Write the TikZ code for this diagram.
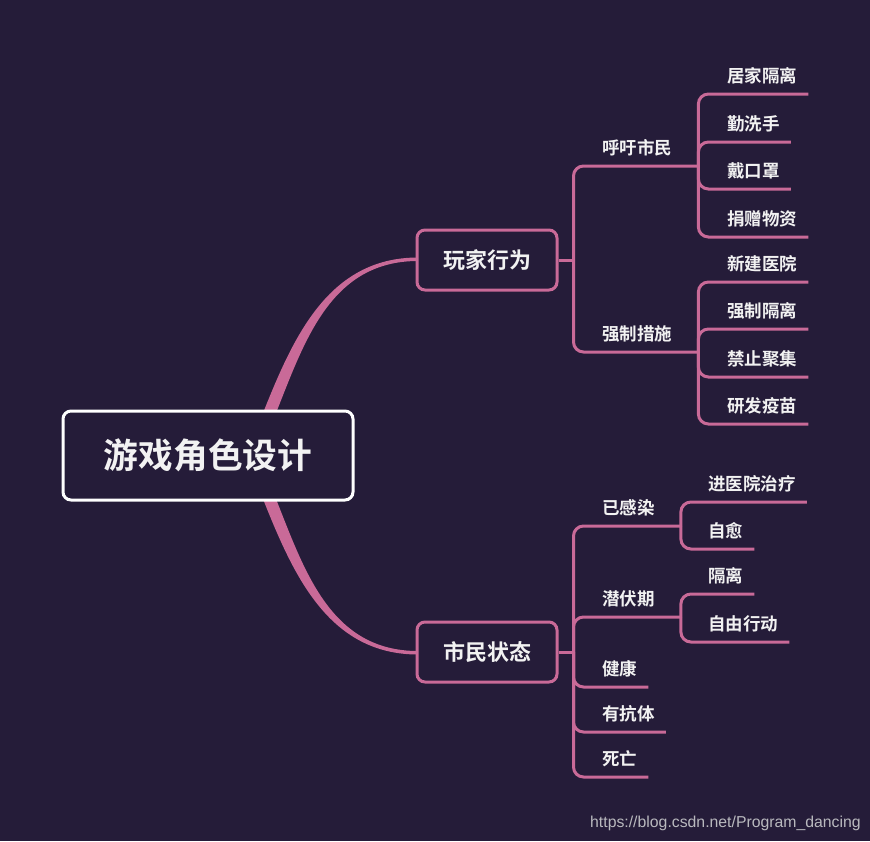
\documentclass[tikz,border=0pt]{standalone}
\usepackage{fontspec}
\setmainfont{Noto Sans CJK SC}[BoldFont={* Bold}]
\newfontfamily\urlfont{Liberation Sans}
\usetikzlibrary{calc}

\definecolor{bgcol}{RGB}{37,28,57}
\definecolor{pinkline}{RGB}{201,106,152}
\definecolor{textcol}{RGB}{242,242,242}
\definecolor{urlgray}{RGB}{185,185,190}

\tikzset{
  branch/.style={draw=pinkline, line width=3pt, rounded corners=10pt},
  root/.style={draw=white, line width=3pt, fill=bgcol, rounded corners=8pt,
    minimum width=290pt, minimum height=89pt, text=textcol,
    font=\fontsize{34.7}{40}\selectfont\bfseries},
  topic/.style={draw=pinkline, line width=3pt, fill=bgcol, rounded corners=8pt,
    minimum width=140pt, minimum height=60pt, text=textcol,
    font=\fontsize{22}{26}\selectfont\bfseries},
  sub/.style={anchor=south west, inner xsep=0pt, inner ysep=0pt,
    text depth=10.9pt, text=textcol,
    font=\fontsize{17.5}{20}\selectfont\bfseries},
  leaf/.style={sub, inner xsep=11pt},
}

\begin{document}
\begin{tikzpicture}[x=1pt, y=-1pt]
    \fill[bgcol] (0,0) rectangle (870,841);

    % main curves from the root
    \fill[pinkline] (263,413) .. controls (293,338) and (328,257.5) .. (418,257.5)
        -- (418,261) .. controls (331,261) and (305,340) .. (276,413) -- cycle;
    \fill[pinkline] (263,499) .. controls (293,574) and (328,654.5) .. (418,654.5)
        -- (418,651) .. controls (331,651) and (305,572) .. (276,499) -- cycle;

    \node[root] (root) at (208,455.5) {游戏角色设计};
    \node[topic] (play) at (487,260) {玩家行为};
    \node[topic] (city) at (487,652) {市民状态};

    % player actions
    \coordinate (hp) at ([xshift=15pt]play.east);
    \draw[branch] (play.east) -- (hp);
    \node[sub] (call) at (602,166) {呼吁市民};
    \node[sub] (force) at (602,352) {强制措施};
    \coordinate (jcall) at ([xshift=26pt]call.south east);
    \coordinate (jforce) at ([xshift=26pt]force.south east);
    \draw[branch] (hp) |- (jcall);
    \draw[branch] (hp) |- (jforce);

    \node[leaf] (home) at (716,94) {居家隔离};
    \node[leaf] (wash) at (716,142) {勤洗手};
    \node[leaf] (mask) at (716,189) {戴口罩};
    \node[leaf] (donate) at (716,237) {捐赠物资};
    \draw[branch] (jcall) |- (home.south east);
    \draw[branch] (jcall) |- (wash.south east);
    \draw[branch] (jcall) |- (mask.south east);
    \draw[branch] (jcall) |- (donate.south east);

    \node[leaf] (hosp) at (716,282) {新建医院};
    \node[leaf] (isolate) at (716,329) {强制隔离};
    \node[leaf] (gather) at (716,377) {禁止聚集};
    \node[leaf] (vaccine) at (716,424) {研发疫苗};
    \draw[branch] (jforce) |- (hosp.south east);
    \draw[branch] (jforce) |- (isolate.south east);
    \draw[branch] (jforce) |- (gather.south east);
    \draw[branch] (jforce) |- (vaccine.south east);

    % citizen states
    \coordinate (hc) at ([xshift=15pt]city.east);
    \draw[branch] (city.east) -- (hc);
    \node[sub] (ill) at (602,526) {已感染};
    \node[sub] (latent) at (602,617) {潜伏期};
    \coordinate (jill) at ([xshift=26pt]ill.south east);
    \coordinate (jlatent) at ([xshift=26pt]latent.south east);
    \draw[branch] (hc) |- (jill);
    \draw[branch] (hc) |- (jlatent);

    \node[leaf] (treat) at (697,502) {进医院治疗};
    \node[leaf] (heal) at (697,549) {自愈};
    \draw[branch] (jill) |- (treat.south east);
    \draw[branch] (jill) |- (heal.south east);

    \node[leaf] (quar) at (697,594) {隔离};
    \node[leaf] (free) at (697,642) {自由行动};
    \draw[branch] (jlatent) |- (quar.south east);
    \draw[branch] (jlatent) |- (free.south east);

    \node[leaf] (healthy) at (591,687) {健康};
    \node[leaf] (immune) at (591,732) {有抗体};
    \node[leaf] (dead) at (591,777) {死亡};
    \draw[branch] (hc) |- (healthy.south east);
    \draw[branch] (hc) |- (immune.south east);
    \draw[branch] (hc) |- (dead.south east);

    \node[anchor=base west, inner sep=0pt, text=urlgray,
        font=\urlfont\fontsize{15.8}{18}\selectfont] (mark) at (590,827)
        {https://blog.csdn.net/Program\_dancing};
\end{tikzpicture}
\end{document}
